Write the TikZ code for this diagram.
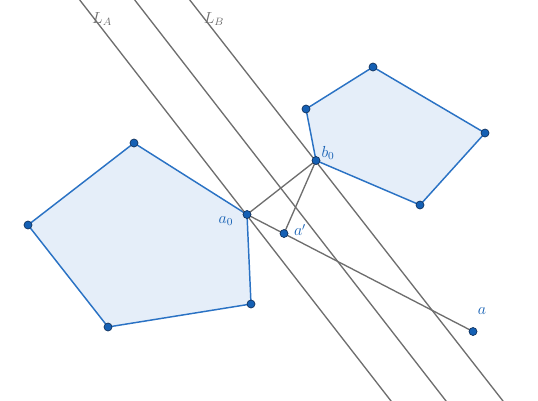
\documentclass[tikz,border=0pt]{standalone}
\usepackage{amsmath}
\usepackage{tikz}
\usetikzlibrary{positioning}
\definecolor{polyedge}{RGB}{42,114,196}
\definecolor{polyfill}{RGB}{229,238,249}
\definecolor{ptfill}{RGB}{21,96,180}
\definecolor{ptdraw}{RGB}{16,48,90}
\definecolor{linegray}{RGB}{110,110,110}
\tikzset{
  pt/.style={circle,fill=ptfill,draw=ptdraw,line width=0.5pt,inner sep=0pt,minimum size=6pt},
  poly/.style={draw=polyedge,fill=polyfill,line width=1.1pt,line join=round},
  gline/.style={draw=linegray,line width=1pt},
  ptlabel/.style={text=ptfill,font=\large,inner sep=1pt},
  linelabel/.style={text=linegray,font=\large,inner sep=1pt}
}
\begin{document}
\begin{tikzpicture}[x=0.75pt,y=-0.75pt]
\useasboundingbox (0,0) rectangle (538,400);
\clip (0,0) rectangle (538,400);
% vertices
\coordinate (p1) at (134,143);
\coordinate (a0) at (247,214.5);
\coordinate (p3) at (251,304);
\coordinate (p4) at (108,327);
\coordinate (p5) at (28,225);
\coordinate (b0) at (316,160.5);
\coordinate (q2) at (306,109);
\coordinate (q3) at (373,67);
\coordinate (q4) at (485,133);
\coordinate (q5) at (420,205);
\coordinate (ap) at (284,233.5);
\coordinate (a) at (473,331.5);
% ends of the parallel lines
\coordinate (LA1) at (72,-10);
\coordinate (LA2) at (398,410);
\coordinate (LM1) at (127,-10);
\coordinate (LM2) at (453,410);
\coordinate (LB1) at (182,-10);
\coordinate (LB2) at (510,410);
% polygons
\draw [poly] (p1) -- (a0) -- (p3) -- (p4) -- (p5) -- cycle;
\draw [poly] (b0) -- (q2) -- (q3) -- (q4) -- (q5) -- cycle;
% lines
\draw [gline] (LA1) -- (LA2);
\draw [gline] (LM1) -- (LM2);
\draw [gline] (LB1) -- (LB2);
\draw [gline] (a0) -- (b0);
\draw [gline] (a0) -- (a);
\draw [gline] (b0) -- (ap);
% points
\foreach \p in {p1,a0,p3,p4,p5,b0,q2,q3,q4,q5,ap,a}
  \node [pt] (n\p) at (\p) {};
% labels
\node [ptlabel] (la0) at (226,221) {$a_0$};
\node [ptlabel] (lb0) at (328,153) {$b_0$};
\node [ptlabel] (lap) at (300,230) {$a'$};
\node [ptlabel] (la) at (482,311) {$a$};
\node [linelabel] (lLA) at (102,19) {$L_A$};
\node [linelabel] (lLB) at (214,19) {$L_B$};
\end{tikzpicture}
\end{document}
